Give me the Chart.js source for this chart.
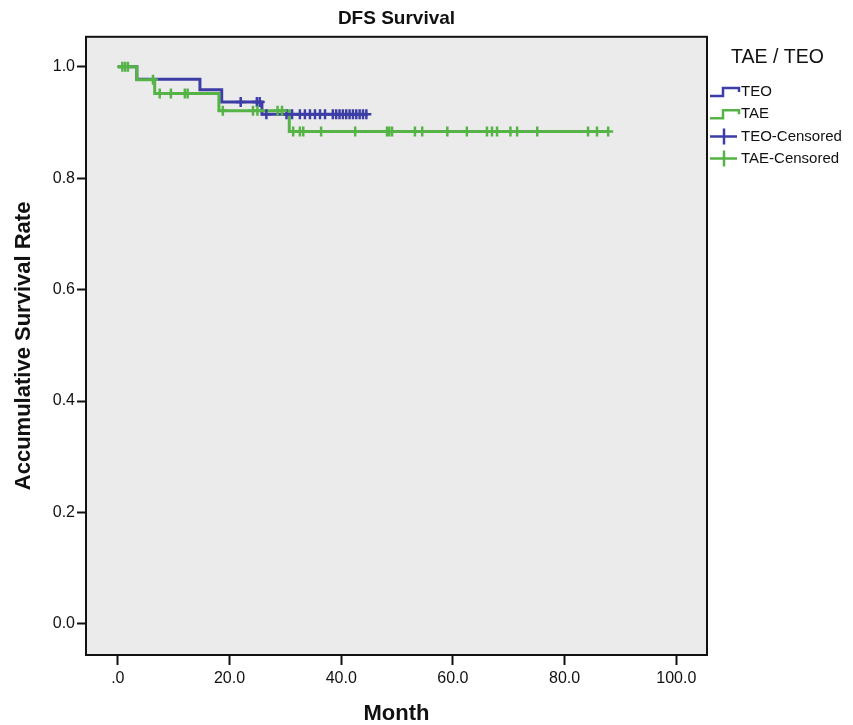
<!DOCTYPE html>
<html>
<head>
<meta charset="utf-8">
<title>DFS Survival</title>
<script src="https://cdn.jsdelivr.net/npm/chart.js@4.4.1/dist/chart.umd.min.js"></script>
<style>
  body { margin: 0; background: #fff; }
  #wrap { width: 853px; height: 725px; }
</style>
</head>
<body>
<div id="wrap"><canvas id="dfsChart" width="853" height="725"></canvas></div>
<script>
// Kaplan-Meier steps (month, survival)
const teoMonths = [0, 3.4, 14.7, 18.6, 25.8, 44.8];
const teoSurvival = [1.0, 0.978, 0.959, 0.937, 0.915, 0.915];
const taeMonths = [0, 3.4, 6.6, 18.1, 30.7, 87.8];
const taeSurvival = [1.0, 0.977, 0.952, 0.921, 0.884, 0.884];

// censored cases (month)
const teoCensored = [22.0, 24.9, 25.4, 26.6, 30.2, 31.2, 32.6, 33.5, 34.4, 35.3, 36.2, 37.1,
    38.5, 39.1, 39.7, 40.3, 40.9, 41.5, 42.1, 42.7, 43.3, 43.9, 44.5];
const taeCensored = [0.8, 1.3, 1.8, 6.3, 7.5, 9.5, 12.0, 12.5, 18.8, 24.2, 25.0, 28.6, 29.4,
    31.4, 32.6, 33.2, 36.4, 42.5, 48.2, 48.6, 49.1, 53.2, 54.5, 59.0, 62.5, 66.1, 67.0, 67.9,
    70.3, 71.5, 75.1, 84.2, 85.8, 87.8];

const xTicks = [0, 20, 40, 60, 80, 100];
const xTickLabels = ['.0', '20.0', '40.0', '60.0', '80.0', '100.0'];
const yTicks = [0, 0.2, 0.4, 0.6, 0.8, 1.0];
const yTickLabels = ['0.0', '0.2', '0.4', '0.6', '0.8', '1.0'];
const legendTitle = 'TAE / TEO';
const legendLabels = ['TEO', 'TAE', 'TEO-Censored', 'TAE-Censored'];

const BLUE = '#3d3da6';
const GREEN = '#56b447';
const FONT = 'Liberation Sans, Arial, sans-serif';

function survivalAt(months, surv, t) {
    let s = surv[0];
    for (let i = 0; i < months.length; i++) {
        if (months[i] <= t) s = surv[i];
    }
    return s;
}

function toPoints(xs, ys) {
    return xs.map((x, i) => ({ x: x, y: ys[i] }));
}

const teoCensorPts = teoCensored.map(t => ({ x: t, y: survivalAt(teoMonths, teoSurvival, t) }));
const taeCensorPts = taeCensored.map(t => ({ x: t, y: survivalAt(taeMonths, taeSurvival, t) }));

// grey plot background
const plotBackground = {
    id: 'plotBackground',
    beforeDraw(chart) {
        const a = chart.chartArea, ctx = chart.ctx;
        ctx.save();
        ctx.fillStyle = '#ebebeb';
        ctx.fillRect(a.left, a.top, a.right - a.left, a.bottom - a.top);
        ctx.restore();
    }
};

// frame + SPSS style legend on the right
const frameAndLegend = {
    id: 'frameAndLegend',
    afterDraw(chart) {
        const a = chart.chartArea, ctx = chart.ctx;
        ctx.save();
        ctx.strokeStyle = '#111';
        ctx.lineWidth = 2;
        ctx.strokeRect(a.left, a.top, a.right - a.left, a.bottom - a.top);

        ctx.fillStyle = '#111';
        ctx.textAlign = 'left';
        ctx.textBaseline = 'middle';
        ctx.font = '19.5px ' + FONT;
        ctx.fillText(legendTitle, 731, 58);

        const colors = [BLUE, GREEN, BLUE, GREEN];
        ctx.font = '15px ' + FONT;
        legendLabels.forEach((label, i) => {
            const y = 92 + i * 22.2;
            ctx.strokeStyle = colors[i];
            ctx.lineWidth = 2.5;
            ctx.beginPath();
            if (i < 2) {
                ctx.moveTo(710, y + 4);
                ctx.lineTo(723, y + 4);
                ctx.lineTo(723, y - 4);
                ctx.lineTo(739, y - 4);
                ctx.lineTo(739, y);
            } else {
                ctx.moveTo(710, y);
                ctx.lineTo(737, y);
                ctx.moveTo(724, y - 8);
                ctx.lineTo(724, y + 8);
            }
            ctx.stroke();
            ctx.fillStyle = '#111';
            ctx.fillText(label, 741, y);
        });
        ctx.restore();
    }
};

const ctx = document.getElementById('dfsChart').getContext('2d');

new Chart(ctx, {
    type: 'scatter',
    data: {
        datasets: [
            {
                label: legendLabels[2],
                data: teoCensorPts,
                pointStyle: 'cross',
                pointRadius: 5,
                borderColor: BLUE,
                backgroundColor: BLUE,
                borderWidth: 2.5,
                order: 1
            },
            {
                label: legendLabels[3],
                data: taeCensorPts,
                pointStyle: 'cross',
                pointRadius: 5,
                borderColor: GREEN,
                backgroundColor: GREEN,
                borderWidth: 2.5,
                order: 0
            },
            {
                label: legendLabels[0],
                data: toPoints(teoMonths, teoSurvival),
                showLine: true,
                stepped: true,
                pointRadius: 0,
                borderColor: BLUE,
                borderWidth: 3,
                order: 3
            },
            {
                label: legendLabels[1],
                data: toPoints(taeMonths, taeSurvival),
                showLine: true,
                stepped: true,
                pointRadius: 0,
                borderColor: GREEN,
                borderWidth: 3,
                order: 2
            }
        ]
    },
    options: {
        responsive: false,
        animation: false,
        layout: { padding: { top: 0, right: 146, bottom: 0, left: 0 } },
        plugins: {
            legend: { display: false },
            tooltip: { enabled: false },
            title: {
                display: true,
                text: 'DFS Survival',
                fullSize: false,
                color: '#111',
                font: { family: FONT, size: 19, weight: 'bold' },
                padding: { top: 7, bottom: 7 }
            }
        },
        scales: {
            x: {
                type: 'linear',
                min: -5.7,
                max: 105.5,
                afterBuildTicks: scale => { scale.ticks = xTicks.map(v => ({ value: v })); },
                afterFit: scale => { scale.height = 70; },
                border: { display: false },
                grid: { drawOnChartArea: false, drawTicks: true, tickLength: 10, tickColor: '#111', tickWidth: 2 },
                ticks: {
                    color: '#111',
                    padding: 4,
                    maxRotation: 0,
                    font: { family: FONT, size: 16 },
                    callback: (value, index) => xTickLabels[index]
                },
                title: {
                    display: true,
                    text: 'Month',
                    color: '#111',
                    font: { family: FONT, size: 22, weight: 'bold', lineHeight: 1 },
                    padding: { top: 0, bottom: 0 }
                }
            },
            y: {
                type: 'linear',
                min: -0.056,
                max: 1.054,
                afterBuildTicks: scale => { scale.ticks = yTicks.map(v => ({ value: v })); },
                afterFit: scale => { scale.width = 86; },
                border: { display: false },
                grid: { drawOnChartArea: false, drawTicks: true, tickLength: 9, tickColor: '#111', tickWidth: 2 },
                ticks: {
                    color: '#111',
                    padding: 2,
                    font: { family: FONT, size: 16 },
                    callback: (value, index) => yTickLabels[index]
                },
                title: {
                    display: true,
                    text: 'Accumulative Survival Rate',
                    color: '#111',
                    font: { family: FONT, size: 22, weight: 'bold', lineHeight: 1 },
                    padding: { top: 13, bottom: 0 }
                }
            }
        }
    },
    plugins: [plotBackground, frameAndLegend]
});
</script>
</body>
</html>
